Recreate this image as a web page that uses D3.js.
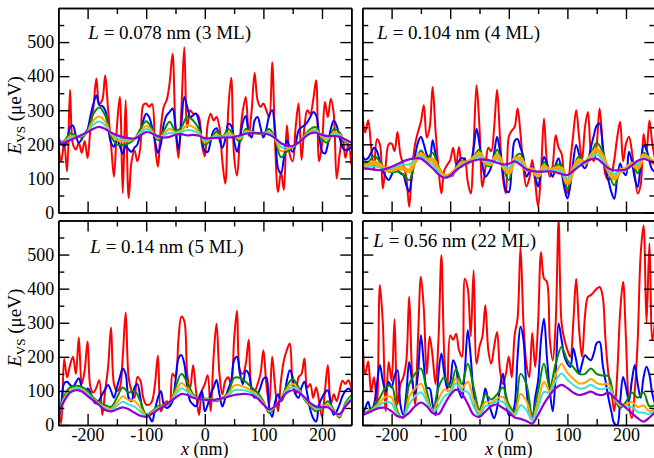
<!DOCTYPE html>
<html><head><meta charset="utf-8">
<script src="https://cdn.jsdelivr.net/npm/d3@7"></script>
<style>body{margin:0;background:#fff}svg{display:block}</style>
</head><body>
<script>
// ---------- data ----------
const xFine = [-250,-245,-240,-235,-230,-225,-220,-215,-210,-205,-200,-195,-190,-185,-180,-175,-170,-165,-160,-155,-150,-145,-140,-135,-130,-125,-120,-115,-110,-105,-100,-95,-90,-85,-80,-75,-70,-65,-60,-55,-50,-45,-40,-35,-30,-25,-20,-15,-10,-5,0,5,10,15,20,25,30,35,40,45,50,55,60,65,70,75,80,85,90,95,100,105,110,115,120,125,130,135,140,145,150,155,160,165,170,175,180,185,190,195,200,205,210,215,220,225,230,235,240,245,250];
const xCoarse = [-250,-240,-230,-220,-210,-200,-190,-180,-170,-160,-150,-140,-130,-120,-110,-100,-90,-80,-70,-60,-50,-40,-30,-20,-10,0,10,20,30,40,50,60,70,80,90,100,110,120,130,140,150,160,170,180,190,200,210,220,230,240,250];
const xTicks = [-200,-100,0,100,200];
const xMinor = [-150,-50,50,150];
const yTicks = [0,100,200,300,400,500];
const yMinor = [50,150,250,350,450,550];
const seriesNames = ["red","blue","green","orange","cyan","violet"];
const seriesColors = ["#ff0000","#0000ff","#008b00","#ffa500","#40e0d0","#9400d3"];
const panelL = ["0.078","0.104","0.14","0.56"];
const panelML = ["3","4","5","22"];

// panel 1 : 3 ML
const p1Red = [200,150,205,120,360,200,185,205,175,210, 160,250,310,393,320,330,402,300,200,105, 250,339,57,330,42,150,183,150,190,315, 320,310,318,200,134,250,310,330,380,466, 250,160,300,485,250,300,290,290,280,200, 165,260,290,270,280,250,150,85,300,395, 165,108,220,300,339,225,300,409,330,310, 320,300,280,441,200,60,120,66,256,170, 150,250,320,155,250,300,290,330,388,150, 200,324,280,334,290,100,170,220,160,200, 140];
const p1Blue = [217,205,195,210,250,255,225,205,215,230, 245,285,320,344,315,312,300,250,205,193, 215,195,172,195,185,178,190,200,235,270, 290,280,250,210,175,200,260,285,295,305, 250,185,260,339,310,280,285,290,265,215, 180,178,210,240,247,215,190,215,260,255, 210,178,215,265,283,235,220,270,280,250, 220,245,285,300,240,130,115,160,212,190, 178,200,240,250,255,265,280,295,285,230, 180,173,200,245,269,255,220,190,183,185, 193];
const p1Green = [205,210,232,225,220,240,290,308,285,225, 200,198,203,215,245,268,245,212,240,266, 240,250,281,270,245,197,215,237,222,245, 225,208,245,238,232,232,245,215,162,178, 190,205,225,245,250,215,205,245,235,205, 208];
const p1Orange = [204,208,223,223,224,238,270,282,267,230, 212,208,210,216,236,254,239,217,231,246, 235,241,256,251,236,206,216,229,221,234, 224,216,239,236,232,232,237,216,180,186, 192,205,223,239,243,221,214,236,229,209, 207];
const p1Cyan = [203,206,218,221,226,237,258,267,256,232, 219,214,214,217,231,245,236,220,226,234, 231,236,242,240,231,212,217,224,221,227, 223,221,235,234,233,232,233,217,192,191, 194,205,221,235,239,225,219,230,226,211, 206];
const p1Violet = [202,205,212,220,228,236,246,251,245,235, 227,221,218,217,226,236,232,224,220,222, 228,230,226,228,225,218,218,219,220,220, 222,226,231,233,233,232,228,218,203,196, 195,205,220,232,234,228,224,224,222,214, 205];

// panel 2 : 4 ML
const p2Red = [290,235,271,193,124,215,200,70,140,200, 202,180,236,170,140,104,17,130,200,236, 266,315,220,250,368,240,130,56,124,140, 154,190,140,192,134,160,90,56,200,373, 250,75,130,190,180,250,360,220,100,56, 222,240,251,305,230,130,76,100,154,90, 17,120,276,150,105,140,227,190,173,90, 56,150,230,300,220,154,250,295,180,150, 200,305,200,110,95,110,154,220,266,150, 202,222,180,110,56,80,230,180,270,200, 154];
const p2Blue = [168,155,160,175,190,180,150,124,105,95, 110,128,125,115,110,80,61,110,165,205, 222,200,170,154,212,170,130,110,105,108, 106,110,135,152,160,155,144,150,190,246, 200,140,105,115,134,175,222,180,120,65, 60,130,210,215,190,163,105,120,134,105, 76,120,163,145,120,105,140,159,120,70, 41,80,150,198,170,140,130,150,190,225, 255,261,200,130,95,60,40,100,144,120, 110,178,150,100,75,140,197,185,150,125, 120];
const p2Green = [140,148,165,150,125,118,120,112,95,145, 182,160,175,135,110,112,128,150,148,165, 185,140,138,185,135,95,160,172,125,130, 100,148,125,138,140,68,128,165,145,170, 205,180,120,80,120,130,145,115,175,160, 140];
const p2Orange = [136,139,147,138,126,125,130,129,122,151, 171,153,155,125,106,110,126,144,147,159, 172,147,144,167,138,117,156,158,126,126, 109,135,123,129,128,87,125,152,146,164, 184,164,125,100,122,128,142,132,167,156, 142];
const p2Cyan = [132,133,136,131,127,130,137,141,141,156, 164,149,141,118,104,109,125,140,147,155, 164,151,148,156,139,131,153,148,126,124, 115,127,122,123,120,99,124,143,147,160, 170,154,127,113,123,127,140,143,162,154, 143];
const p2Violet = [130,128,126,124,128,134,142,150,156,159, 158,145,130,112,102,108,124,136,146,152, 156,155,152,146,141,143,150,140,127,122, 120,120,121,118,113,110,122,135,148,156, 158,145,130,124,124,126,138,152,157,152, 144];

// panel 3 : 5 ML
const p3Red = [50,5,194,140,175,200,150,257,120,160, 245,110,95,110,131,29,100,170,286,120, 100,110,200,330,140,100,80,141,130,80, 60,60,70,120,204,40,60,70,60,150, 140,250,318,305,150,107,175,100,29,100, 120,146,40,200,297,150,90,130,140,120, 250,335,160,150,180,250,110,100,120,150, 219,120,60,200,110,40,130,190,220,239, 120,90,140,150,195,110,120,80,110,70, 24,100,175,60,90,70,100,130,120,131, 107];
const p3Blue = [10,60,122,127,118,112,125,137,110,92, 107,95,70,63,73,90,105,117,100,80, 110,140,166,150,80,70,110,120,80,40, 30,25,10,45,80,100,60,50,55,70, 130,195,205,180,110,70,60,55,80,100, 40,60,90,110,132,90,54,80,105,130, 190,200,150,120,160,150,100,80,90,110, 135,140,50,24,68,90,70,85,130,161, 140,90,80,110,127,90,45,20,10,60, 80,95,102,60,30,40,60,85,100,107, 100];
const p3Green = [25,85,110,115,112,100,80,66,58,53, 80,110,95,100,70,30,40,55,58,62, 110,150,125,90,75,78,75,70,80,95, 138,138,126,110,95,70,35,55,75,115, 135,110,75,55,40,50,70,45,22,65, 87];
const p3Orange = [31,78,103,109,106,93,76,62,52,47, 65,84,73,71,51,27,37,51,57,65, 97,123,108,86,75,76,74,72,79,90, 116,116,110,100,87,66,40,55,75,106, 120,104,78,59,46,51,62,42,26,61, 81];
const p3Cyan = [34,74,99,106,102,89,74,60,48,44, 56,68,60,54,39,26,35,48,56,66, 88,108,98,83,76,75,74,74,78,86, 102,103,101,94,83,63,43,55,75,100, 111,100,80,62,50,51,57,40,29,58, 77];
const p3Violet = [38,70,95,102,98,85,72,58,44,40, 46,52,46,36,27,24,33,45,55,68, 80,91,88,80,76,74,73,75,78,83, 88,90,91,88,78,60,46,55,75,95, 102,96,82,64,54,52,52,38,32,55, 73];

// panel 4 : 22 ML
const p4Red = [333,150,186,98,140,60,411,300,40,185, 130,310,60,120,140,185,377,150,60,250, 435,340,150,260,200,120,250,498,200,100, 263,250,268,220,200,429,400,260,454,180, 230,260,351,220,180,230,273,160,120,150, 200,140,264,313,522,300,180,140,270,170, 300,507,430,420,250,190,300,601,300,250, 220,200,300,429,280,200,320,376,381,390, 400,405,380,250,150,100,40,150,330,420, 250,60,20,100,250,500,585,300,533,250, 313];
const p4Blue = [24,49,68,40,60,120,176,130,98,127, 110,145,161,60,29,90,185,130,92,150, 263,180,110,107,60,29,150,210,150,110, 125,190,170,100,80,160,278,200,90,40, 29,60,107,70,40,20,50,110,151,80, 30,30,60,200,288,250,110,40,20,80, 130,250,312,200,100,40,150,298,250,200, 180,170,225,190,150,180,205,196,190,210, 240,244,180,130,80,40,5,0,70,141, 110,70,130,176,120,80,140,171,147,90, 60];
const p4Green = [29,40,55,80,110,115,40,20,120,150, 166,100,40,110,140,110,164,120,180,110, 45,90,75,90,110,60,40,150,120,30, 100,180,110,180,229,190,170,150,150,166, 150,145,143,80,50,68,95,80,95,55, 60];
const p4Orange = [29,38,50,67,83,81,34,22,82,107, 121,80,38,75,104,100,137,107,127,74, 36,68,66,77,83,50,32,91,71,18, 69,127,100,148,179,153,136,122,124,135, 123,119,121,80,57,60,68,53,57,40, 50];
const p4Cyan = [29,37,47,59,68,63,30,23,61,84, 96,69,37,55,84,95,122,100,97,54, 30,55,61,69,68,45,27,58,44,12, 51,97,95,130,151,133,118,107,109,118, 108,105,109,80,60,55,53,38,36,32, 45];
const p4Violet = [29,36,44,50,50,40,26,24,36,55, 66,55,35,32,60,88,104,92,62,30, 24,40,55,60,50,38,22,18,12,4, 30,62,88,108,118,108,95,88,92,98, 90,88,95,80,65,50,35,20,10,22, 38];

// ---------- layout ----------
const W = 654, H = 458;
const font = "'Liberation Serif','Times New Roman',serif";
const pw = 293, ph = 204.5;
const panels = [
  {x0:58.3, y0:8,   left:true,  bottom:false, series:[p1Red,p1Blue,p1Green,p1Orange,p1Cyan,p1Violet], orangeW:2, lx:30, ly:31},
  {x0:362.3,y0:8,   left:false, bottom:false, series:[p2Red,p2Blue,p2Green,p2Orange,p2Cyan,p2Violet], orangeW:4.5, lx:15, ly:31},
  {x0:58.3, y0:220.5,left:true, bottom:true,  series:[p3Red,p3Blue,p3Green,p3Orange,p3Cyan,p3Violet], orangeW:2, lx:32, ly:32},
  {x0:362.3,y0:220.5,left:false,bottom:true,  series:[p4Red,p4Blue,p4Green,p4Orange,p4Cyan,p4Violet], orangeW:2, lx:11, ly:26}
];

const svg = d3.select("body").append("svg").attr("width",W).attr("height",H)
  .style("font-family",font);

const x = d3.scaleLinear().domain([-250,250]).range([0,pw]);
const y = d3.scaleLinear().domain([0,600]).range([ph,0]);
const fmt = d => String(d);

panels.forEach((p,pi) => {
  const g = svg.append("g").attr("transform",`translate(${p.x0},${p.y0})`);
  const cid = "clip"+pi;
  g.append("clipPath").attr("id",cid).append("rect").attr("width",pw).attr("height",ph);
  const plot = g.append("g").attr("clip-path",`url(#${cid})`);
  p.series.forEach((vals,si) => {
    const xs = vals.length === xFine.length ? xFine : xCoarse;
    const line = d3.line().x((d,i)=>x(xs[i])).y(d=>y(d)).curve(d3.curveCatmullRom.alpha(0.5));
    let w = 2;
    if (si === 3) w = p.orangeW;
    if (si === 5) w = 2.2;
    plot.append("path").datum(vals).attr("d",line).attr("fill","none")
      .attr("stroke",seriesColors[si]).attr("stroke-width",w).attr("stroke-linejoin","round");
  });

  const mk = (axisFn, scale, vals, size, labels) =>
    axisFn(scale).tickValues(vals).tickSizeInner(-size).tickSizeOuter(0)
      .tickFormat(labels ? fmt : "");
  const addAxis = (axis, tr) => {
    const a = g.append("g").attr("transform",tr).call(axis);
    a.attr("font-family",font);
    a.select(".domain").attr("stroke","#000").attr("stroke-width",1.6);
    a.selectAll(".tick line").attr("stroke","#000").attr("stroke-width",1.4);
    a.selectAll("text").attr("font-size",18).style("font-family",font).attr("fill","#000");
    return a;
  };
  addAxis(mk(d3.axisLeft,y,yTicks,11,p.left).tickPadding(4),"translate(0,0)");
  addAxis(mk(d3.axisLeft,y,yMinor,6,false),"translate(0,0)");
  addAxis(mk(d3.axisRight,y,yTicks,11,false),`translate(${pw},0)`);
  addAxis(mk(d3.axisRight,y,yMinor,6,false),`translate(${pw},0)`);
  addAxis(mk(d3.axisTop,x,xTicks,11,false),"translate(0,0)");
  addAxis(mk(d3.axisTop,x,xMinor,6,false),"translate(0,0)");
  addAxis(mk(d3.axisBottom,x,xTicks,11,p.bottom).tickPadding(3.5),`translate(0,${ph})`);
  addAxis(mk(d3.axisBottom,x,xMinor,6,false),`translate(0,${ph})`);

  const t = g.append("text").attr("x",p.lx).attr("y",p.ly).attr("font-size",19)
    .style("font-family",font).attr("fill","#000");
  t.append("tspan").attr("font-style","italic").text("L");
  t.append("tspan").text(` = ${panelL[pi]} nm (${panelML[pi]} ML)`);

  if (p.left) {
    const yl = svg.append("text")
      .attr("transform",`translate(21,${p.y0+ph/2+5}) rotate(-90)`)
      .attr("text-anchor","middle").attr("font-size",19).style("font-family",font).attr("fill","#000");
    yl.append("tspan").attr("font-style","italic").text("E");
    yl.append("tspan").attr("font-size",13).attr("dy",4).text("VS");
    yl.append("tspan").attr("dy",-4).text(" (μeV)");
  }
  if (p.bottom) {
    const xl = svg.append("text").attr("x",p.x0+x(0)).attr("y",455)
      .attr("text-anchor","middle").attr("font-size",18).style("font-family",font).attr("fill","#000");
    xl.append("tspan").attr("font-style","italic").text("x");
    xl.append("tspan").text(" (nm)");
  }
});
</script>
</body></html>
